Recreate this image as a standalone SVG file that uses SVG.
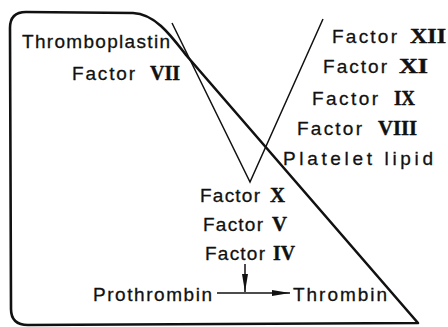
<svg xmlns="http://www.w3.org/2000/svg" width="448" height="327" viewBox="0 0 448 327">
<style>
text{font-family:"Liberation Sans","DejaVu Sans",sans-serif;font-size:19px;fill:#111;stroke:#111;stroke-width:0.3}
.r{font-family:"Liberation Serif",serif;font-weight:bold;font-size:21px;stroke-width:0.4}
.thin{fill:none;stroke:#111;stroke-width:1.5}
.thick{fill:none;stroke:#111;stroke-width:2.6;stroke-linejoin:round}
</style>
<defs>
<marker id="ah" viewBox="0 0 18 6" refX="18" refY="3" markerWidth="18" markerHeight="6" markerUnits="userSpaceOnUse" orient="auto">
<path d="M0,0 L18,3 L0,6 Z" fill="#111"/>
</marker>
</defs>
<rect width="448" height="327" fill="#fff"/>
<g id="connectors">
<path class="thick" d="M10,28 Q10,12 26,12 L133,13 C156,14 172,37 186,55 L418,323 L28,325 Q11,325 11,309 Z"/>
<path class="thin" d="M172,23 L250,182 L323,19"/>
<path class="thin" d="M217,293 L290,293" marker-end="url(#ah)"/>
<path class="thin" d="M245,264 L245,292" marker-end="url(#ah)"/>
</g>
<g id="thromboplastin"><text x="22" y="48" textLength="148" lengthAdjust="spacing">Thromboplastin</text></g>
<g id="f7"><text x="72" y="80" textLength="63" lengthAdjust="spacing">Factor</text><text class="r" x="150" y="80" textLength="30" lengthAdjust="spacingAndGlyphs">VII</text></g>
<g id="f12"><text x="332" y="43" textLength="65" lengthAdjust="spacing">Factor</text><text class="r" x="410" y="43" textLength="36" lengthAdjust="spacingAndGlyphs">XII</text></g>
<g id="f11"><text x="323" y="73" textLength="64" lengthAdjust="spacing">Factor</text><text class="r" x="399" y="73" textLength="29" lengthAdjust="spacingAndGlyphs">XI</text></g>
<g id="f9"><text x="312" y="105" textLength="66" lengthAdjust="spacing">Factor</text><text class="r" x="394" y="105" textLength="21" lengthAdjust="spacingAndGlyphs">IX</text></g>
<g id="f8"><text x="297" y="135" textLength="65" lengthAdjust="spacing">Factor</text><text class="r" x="378" y="135" textLength="39" lengthAdjust="spacingAndGlyphs">VIII</text></g>
<g id="pl"><text x="283" y="165" textLength="150" lengthAdjust="spacing">Platelet  lipid</text></g>
<g id="f10"><text x="200" y="202" textLength="60" lengthAdjust="spacing">Factor</text><text class="r" x="270" y="202" textLength="15" lengthAdjust="spacingAndGlyphs">X</text></g>
<g id="f5"><text x="203" y="231" textLength="60" lengthAdjust="spacing">Factor</text><text class="r" x="272" y="231" textLength="15" lengthAdjust="spacingAndGlyphs">V</text></g>
<g id="f4"><text x="205" y="260" textLength="60" lengthAdjust="spacing">Factor</text><text class="r" x="273" y="260" textLength="22" lengthAdjust="spacingAndGlyphs">IV</text></g>
<g id="prothrombin"><text x="93" y="301" textLength="119" lengthAdjust="spacing">Prothrombin</text></g>
<g id="thrombin"><text x="293" y="301" textLength="94" lengthAdjust="spacing">Thrombin</text></g>
</svg>
